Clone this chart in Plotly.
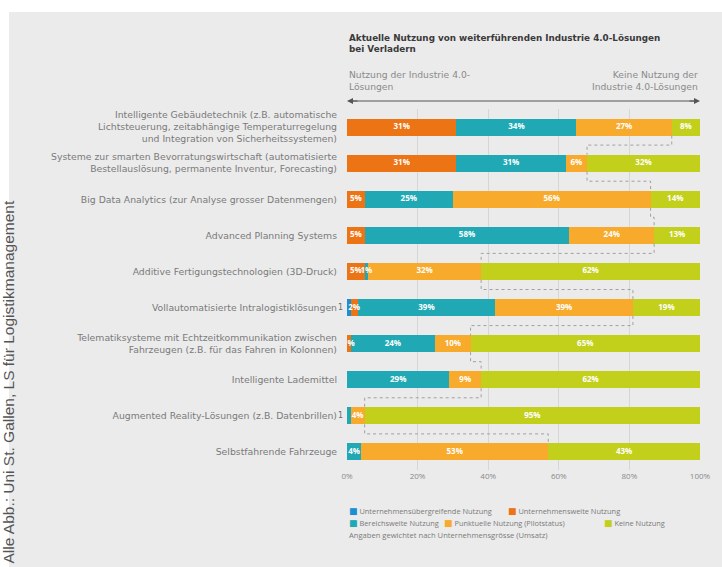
import plotly.graph_objects as go

# Categories (top to bottom)
categories = [
    "Intelligente Gebäudetechnik (z.B. automatische<br>Lichtsteuerung, zeitabhängige Temperaturregelung<br>und Integration von Sicherheitssystemen)",
    "Systeme zur smarten Bevorratungswirtschaft (automatisierte<br>Bestellauslösung, permanente Inventur, Forecasting)",
    "Big Data Analytics (zur Analyse grosser Datenmengen)",
    "Advanced Planning Systems",
    "Additive Fertigungstechnologien (3D-Druck)",
    "Vollautomatisierte Intralogistiklösungen",
    "Telematiksysteme mit Echtzeitkommunikation zwischen<br>Fahrzeugen (z.B. für das Fahren in Kolonnen)",
    "Intelligente Lademittel",
    "Augmented Reality-Lösungen (z.B. Datenbrillen)",
    "Selbstfahrende Fahrzeuge",
]

series_names = [
    "Unternehmensübergreifende Nutzung",
    "Unternehmensweite Nutzung",
    "Bereichsweite Nutzung",
    "Punktuelle Nutzung (Pilotstatus)",
    "Keine Nutzung",
]
series_colors = ["#1b8fd2", "#ec7414", "#20a9b4", "#f8aa2c", "#c3d01b"]

# Shares in percent
unternehmensuebergreifend = [0, 0, 0, 0, 0, 1, 0, 0, 0, 0]
unternehmensweit = [31, 31, 5, 5, 5, 2, 1, 0, 0, 0]
bereichsweit = [34, 31, 25, 58, 1, 39, 24, 29, 1, 4]
punktuell = [27, 6, 56, 24, 32, 39, 10, 9, 4, 53]
keine = [8, 32, 14, 13, 62, 19, 65, 62, 95, 43]

x_tick_values = [0, 20, 40, 60, 80, 100]
x_tick_labels = ["0%", "20%", "40%", "60%", "80%", "100%"]

series_values = [unternehmensuebergreifend, unternehmensweit, bereichsweit, punktuell, keine]

# segments whose value is written left of the bar instead of inside
outside_left = {(5, 0), (8, 2)}

FONT = "Open Sans"
LABEL_FONT = "DejaVu Sans"
BAR_W = 0.47
ypos = list(range(len(categories)))

fig = go.Figure()

# stacked bars
for name, color, vals in zip(series_names, series_colors, series_values):
    fig.add_trace(go.Bar(
        y=ypos, x=vals, orientation="h", name=name, width=BAR_W,
        marker=dict(color=color, line=dict(width=0)),
        showlegend=False, hoverinfo="x+name",
    ))

# value labels inside the segments
starts = [0] * len(categories)
for si, vals in enumerate(series_values):
    lx, ly, lt = [], [], []
    for ri, v in enumerate(vals):
        if v > 0:
            if (ri, si) in outside_left:
                fig.add_annotation(x=0, y=ri, xref="x", yref="y", text=str(v),
                                   showarrow=False, xanchor="right", xshift=-2,
                                   font=dict(family=LABEL_FONT, size=8, color="#6a6a6a"))
            else:
                lx.append(starts[ri] + v / 2)
                ly.append(ri)
                lt.append(f"{v}%")
        starts[ri] += v
    fig.add_trace(go.Scatter(
        x=lx, y=ly, text=lt, mode="text", showlegend=False, hoverinfo="skip",
        textfont=dict(family=FONT, size=8, color="white", weight="bold"),
    ))

# dotted step connectors between the starts of the "Keine Nutzung" segments
green_start = [100 - k for k in keine]
cx, cy = [], []
for i in range(len(categories) - 1):
    a, b = green_start[i], green_start[i + 1]
    cx += [a, a, b, b, None]
    cy += [i + BAR_W / 2, i + 0.5, i + 0.5, i + 1 - BAR_W / 2, None]
fig.add_trace(go.Scatter(
    x=cx, y=cy, mode="lines", showlegend=False, hoverinfo="skip",
    line=dict(color="#a0a0a0", width=1, dash="dot"),
))

# page geometry (plot area in pixels)
W, H = 722, 567
L, R, T, B = 347, 22, 109, 97
pw, ph = W - L - R, H - T - B


def px(x):
    return (x - L) / pw


def py(y):
    return (H - B - y) / ph


# white page margin around the grey panel
fig.add_shape(type="rect", xref="paper", yref="paper", x0=px(-5), x1=px(9), y0=py(580), y1=py(-5),
              fillcolor="white", line=dict(width=0), layer="below")
fig.add_shape(type="rect", xref="paper", yref="paper", x0=px(-5), x1=px(730), y0=py(12), y1=py(-5),
              fillcolor="white", line=dict(width=0), layer="below")

# title
fig.add_annotation(xref="paper", yref="paper", x=0, y=py(31), xanchor="left", yanchor="top",
                   align="left", showarrow=False,
                   text="<b>Aktuelle Nutzung von weiterführenden Industrie 4.0-Lösungen<br>bei Verladern</b>",
                   font=dict(family=LABEL_FONT, size=8.8, color="#3a3a3a"))
# direction hints
fig.add_annotation(xref="paper", yref="paper", x=0, y=py(67), xanchor="left", yanchor="top",
                   align="left", showarrow=False, text="Nutzung der Industrie 4.0-<br>Lösungen",
                   font=dict(family=LABEL_FONT, size=9.2, color="#8a8a8a"))
fig.add_annotation(xref="paper", yref="paper", x=1, y=py(67), xanchor="right", yanchor="top",
                   align="right", showarrow=False, text="Keine Nutzung der<br>Industrie 4.0-Lösungen",
                   font=dict(family=LABEL_FONT, size=9.2, color="#8a8a8a"))
fig.add_shape(type="line", xref="paper", yref="paper", x0=0.01, x1=0.99, y0=py(101), y1=py(101),
              line=dict(color="#555555", width=1))
fig.add_annotation(xref="paper", yref="paper", x=0, y=py(101), ax=12, ay=0, text="",
                   showarrow=True, arrowhead=2, arrowsize=1, arrowwidth=1.2, arrowcolor="#555555")
fig.add_annotation(xref="paper", yref="paper", x=1, y=py(101), ax=-12, ay=0, text="",
                   showarrow=True, arrowhead=2, arrowsize=1, arrowwidth=1.2, arrowcolor="#555555")

# legend
legend_rows = [[(0, 0.0), (1, px(506))], [(2, 0.0), (3, px(442)), (4, px(602))]]
for row_y, row in zip([511, 523], legend_rows):
    for si, lx in row:
        fig.add_annotation(
            xref="paper", yref="paper", x=lx, y=py(row_y), xanchor="left", yanchor="middle",
            showarrow=False,
            text=(f"<span style='color:{series_colors[si]};font-family:DejaVu Sans;font-size:9px'>■</span>"
                  f" {series_names[si]}"),
            font=dict(family=FONT, size=7.4, color="#7a7a7a"))
fig.add_annotation(xref="paper", yref="paper", x=0, y=py(535), xanchor="left", yanchor="middle",
                   showarrow=False, text="Angaben gewichtet nach Unternehmensgrösse (Umsatz)",
                   font=dict(family=FONT, size=7.6, color="#7a7a7a"))

# source line along the left edge
fig.add_annotation(xref="paper", yref="paper", x=px(8), y=py(566), xanchor="center", yanchor="bottom",
                   textangle=-90, showarrow=False,
                   text="Alle Abb.: Uni St. Gallen, LS für Logistikmanagement",
                   font=dict(family="Liberation Sans", size=15.5, color="#555555"))

fig.update_layout(
    width=W, height=H,
    margin=dict(l=L, r=R, t=T, b=B, pad=0),
    barmode="stack",
    paper_bgcolor="#ebebeb",
    plot_bgcolor="#ebebeb",
    font=dict(family=FONT, size=8, color="#7a7a7a"),
    showlegend=False,
    xaxis=dict(range=[0, 100], tickvals=x_tick_values, ticktext=x_tick_labels,
               showgrid=True, gridcolor="#d6d6d6", gridwidth=1, zeroline=False,
               showline=False, ticks="", fixedrange=True,
               tickfont=dict(family=FONT, size=8, color="#8a8a8a")),
    yaxis=dict(range=[len(categories) - 0.5, -0.5], tickvals=ypos, ticktext=categories,
               showgrid=False, zeroline=False, showline=False, ticks="",
               ticklabelstandoff=9, fixedrange=True,
               tickfont=dict(family=LABEL_FONT, size=9.3, color="#7a7a7a")),
)

fig.write_html("out.html")
